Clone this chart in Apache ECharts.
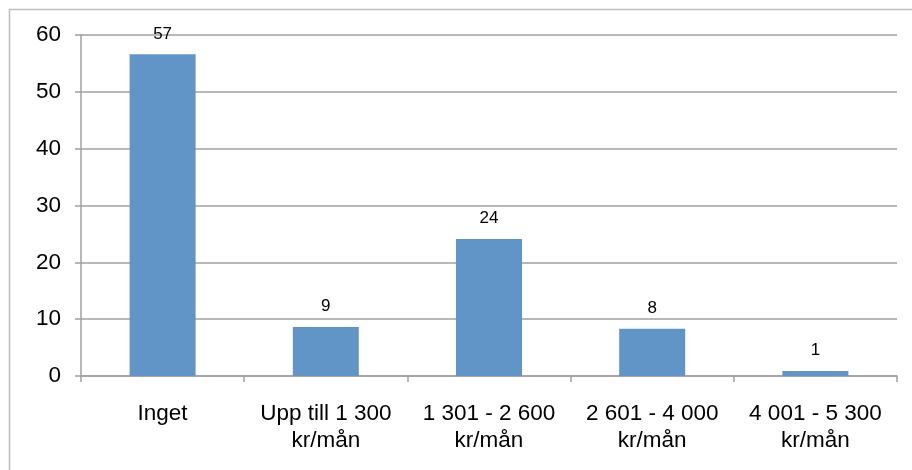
<!DOCTYPE html>
<html>
<head>
<meta charset="utf-8">
<script src="https://cdn.jsdelivr.net/npm/echarts@6/dist/echarts.min.js"></script>
<style>
html,body{margin:0;padding:0;background:#fff;overflow:hidden;}
#c{width:912px;height:470px;}
</style>
</head>
<body>
<div id="c"></div>
<script>
const categories = ['Inget', 'Upp till 1 300\nkr/mån', '1 301 - 2 600\nkr/mån', '2 601 - 4 000\nkr/mån', '4 001 - 5 300\nkr/mån'];
const values = [56.6, 8.6, 24.1, 8.3, 0.9];
const yTicks = { min: 0, max: 60, interval: 10 };

const chart = echarts.init(document.getElementById('c'));
chart.setOption({
  backgroundColor: '#fff',
  animation: false,
  graphic: [{
    type: 'rect',
    shape: { x: 9.5, y: 9.5, width: 1200, height: 1200 },
    style: { fill: 'none', stroke: '#bdbdbd', lineWidth: 1.5 },
    silent: true
  }],
  grid: { left: 81, right: 15, top: 35, bottom: 94, containLabel: false },
  xAxis: {
    type: 'category',
    data: categories,
    axisLine: { lineStyle: { color: '#a0a0a0', width: 1.5 } },
    axisTick: { show: true, length: 6, lineStyle: { color: '#a0a0a0', width: 1.5 } },
    axisLabel: {
      color: '#000', fontFamily: 'Liberation Sans, Arial, sans-serif', fontSize: 22.5,
      lineHeight: 27, margin: 24, interval: 0
    }
  },
  yAxis: {
    type: 'value',
    min: yTicks.min, max: yTicks.max, interval: yTicks.interval,
    axisLine: { show: true, lineStyle: { color: '#a0a0a0', width: 1.5 } },
    axisTick: { show: true, length: 6, lineStyle: { color: '#a0a0a0', width: 1.5 } },
    splitLine: { show: true, lineStyle: { color: '#a0a0a0', width: 1.5 } },
    axisLabel: { color: '#000', fontFamily: 'Liberation Sans, Arial, sans-serif', fontSize: 22.5, margin: 20 }
  },
  series: [{
    type: 'bar',
    data: values,
    barWidth: 66,
    itemStyle: { color: '#6195c8' },
    label: {
      show: true, position: 'top', distance: 12, color: '#000',
      fontFamily: 'Liberation Sans, Arial, sans-serif', fontSize: 17,
      formatter: p => Math.round(p.value)
    }
  }]
});
</script>
</body>
</html>
